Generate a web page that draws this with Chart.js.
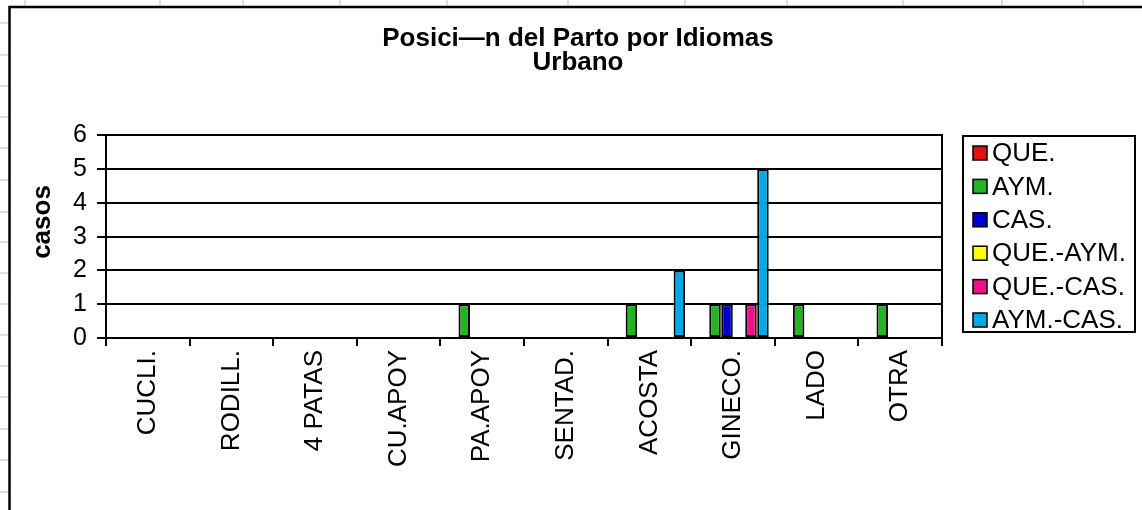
<!DOCTYPE html>
<html>
<head>
<meta charset="utf-8">
<style>
  html, body { margin: 0; padding: 0; background: #fff; overflow: hidden; }
  #wrap { position: absolute; left: 0; top: 0; width: 1142px; height: 510px; }
</style>
</head>
<body>
<div id="wrap"><canvas id="partoChart" width="1142" height="510"></canvas></div>
<script src="https://cdn.jsdelivr.net/npm/chart.js"></script>
<script>
// data
let categories = ['CUCLI.', 'RODILL.', '4 PATAS', 'CU.APOY', 'PA.APOY', 'SENTAD.', 'ACOSTA', 'GINECO.', 'LADO', 'OTRA'];
let que    = [0, 0, 0, 0, 0, 0, 0, 0, 0, 0];
let aym    = [0, 0, 0, 0, 1, 0, 1, 1, 1, 1];
let cas    = [0, 0, 0, 0, 0, 0, 0, 1, 0, 0];
let queAym = [0, 0, 0, 0, 0, 0, 0, 0, 0, 0];
let queCas = [0, 0, 0, 0, 0, 0, 0, 1, 0, 0];
let aymCas = [0, 0, 0, 0, 0, 0, 2, 5, 0, 0];
let yTicks = [0, 1, 2, 3, 4, 5, 6];

const FONT = '"Liberation Sans", Arial, sans-serif';

// spreadsheet cells behind the chart object
const sheetCols = [25, 160, 243, 340, 447, 568, 685, 787, 903, 1002, 1083];
const sheetRows = [23, 55, 86, 117, 148, 180, 212, 242, 273, 304, 335, 366, 397, 429, 460, 492];

const sheetPlugin = {
    id: 'sheet',
    beforeDraw(chart) {
        const c = chart.ctx;
        c.save();
        c.fillStyle = '#fff';
        c.fillRect(0, 0, chart.width, chart.height);
        c.strokeStyle = '#d4d4d4';
        c.lineWidth = 1.5;
        sheetCols.forEach(x => { c.beginPath(); c.moveTo(x, 0); c.lineTo(x, chart.height); c.stroke(); });
        sheetRows.forEach(y => { c.beginPath(); c.moveTo(0, y); c.lineTo(chart.width, y); c.stroke(); });
        // chart object frame
        c.fillStyle = '#fff';
        c.fillRect(9, 7, chart.width, chart.height);
        c.strokeStyle = '#000';
        c.lineWidth = 2.5;
        c.beginPath();
        c.moveTo(9.5, chart.height + 5);
        c.lineTo(9.5, 7);
        c.lineTo(chart.width + 5, 7);
        c.stroke();
        c.restore();
    },
    afterDraw(chart) {
        const c = chart.ctx;
        c.save();
        // axis title
        c.translate(43, 222);
        c.rotate(-Math.PI / 2);
        c.fillStyle = '#000';
        c.font = 'bold 26px ' + FONT;
        c.textAlign = 'center';
        c.textBaseline = 'middle';
        c.fillText('casos', 0, 0);
        c.restore();

        // legend box
        c.save();
        c.strokeStyle = '#000';
        c.lineWidth = 2;
        c.strokeRect(963, 136, 172, 196);
        c.font = '26px ' + FONT;
        c.textBaseline = 'middle';
        c.textAlign = 'left';
        chart.data.datasets.forEach((ds, i) => {
            const y = 153 + i * 33.4;
            c.fillStyle = ds.backgroundColor;
            c.fillRect(973, y - 7, 14, 14);
            c.lineWidth = 1.5;
            c.strokeStyle = '#000';
            c.strokeRect(973, y - 7, 14, 14);
            c.fillStyle = '#000';
            c.fillText(ds.label, 992, y + 1);
        });
        c.restore();
    }
};

function series(label, values, color) {
    return {
        label: label,
        data: values,
        backgroundColor: color,
        borderColor: '#000',
        borderWidth: 2,
        borderSkipped: false,
        categoryPercentage: 0.86,
        barPercentage: 0.96
    };
}

let ctx = document.getElementById('partoChart').getContext('2d');
let chart = new Chart(ctx, {
    type: 'bar',
    data: {
        labels: categories,
        datasets: [
            series('QUE.', que, '#e01010'),
            series('AYM.', aym, '#22b422'),
            series('CAS.', cas, '#0000cc'),
            series('QUE.-AYM.', queAym, '#ffff00'),
            series('QUE.-CAS.', queCas, '#f0108a'),
            series('AYM.-CAS.', aymCas, '#00aae8')
        ]
    },
    plugins: [sheetPlugin],
    options: {
        animation: false,
        responsive: false,
        layout: { padding: { left: 14, right: 0, top: 0, bottom: 0 } },
        plugins: {
            legend: { display: false },
            tooltip: { enabled: false },
            title: {
                display: true,
                text: ['Posici\u2014n del Parto por Idiomas', 'Urbano'],
                color: '#000',
                font: { family: FONT, size: 26, weight: 'bold', lineHeight: 0.95 },
                padding: { top: 26, bottom: 60 }
            }
        },
        scales: {
            x: {
                grid: { drawOnChartArea: false, drawTicks: true, tickLength: 8, color: '#000', lineWidth: 2, offset: true },
                border: { color: '#000', width: 2 },
                ticks: {
                    color: '#000',
                    font: { family: FONT, size: 26 },
                    minRotation: 90,
                    maxRotation: 90,
                    autoSkip: false,
                    padding: 4
                },
                afterFit(scale) { scale.height = 172; }
            },
            y: {
                min: 0,
                max: 6,
                afterBuildTicks(scale) { scale.ticks = yTicks.map(v => ({ value: v })); },
                grid: { color: '#000', lineWidth: 2, tickLength: 9 },
                border: { color: '#000', width: 2 },
                ticks: { color: '#000', font: { family: FONT, size: 25 }, padding: 10, autoSkip: false },
                afterFit(scale) { scale.width = 92; }
            },
            yR: {
                position: 'right',
                min: 0,
                max: 6,
                grid: { drawOnChartArea: false, drawTicks: false },
                border: { color: '#000', width: 2 },
                ticks: { display: false },
                afterFit(scale) { scale.width = 200; }
            }
        }
    }
});
</script>
</body>
</html>
